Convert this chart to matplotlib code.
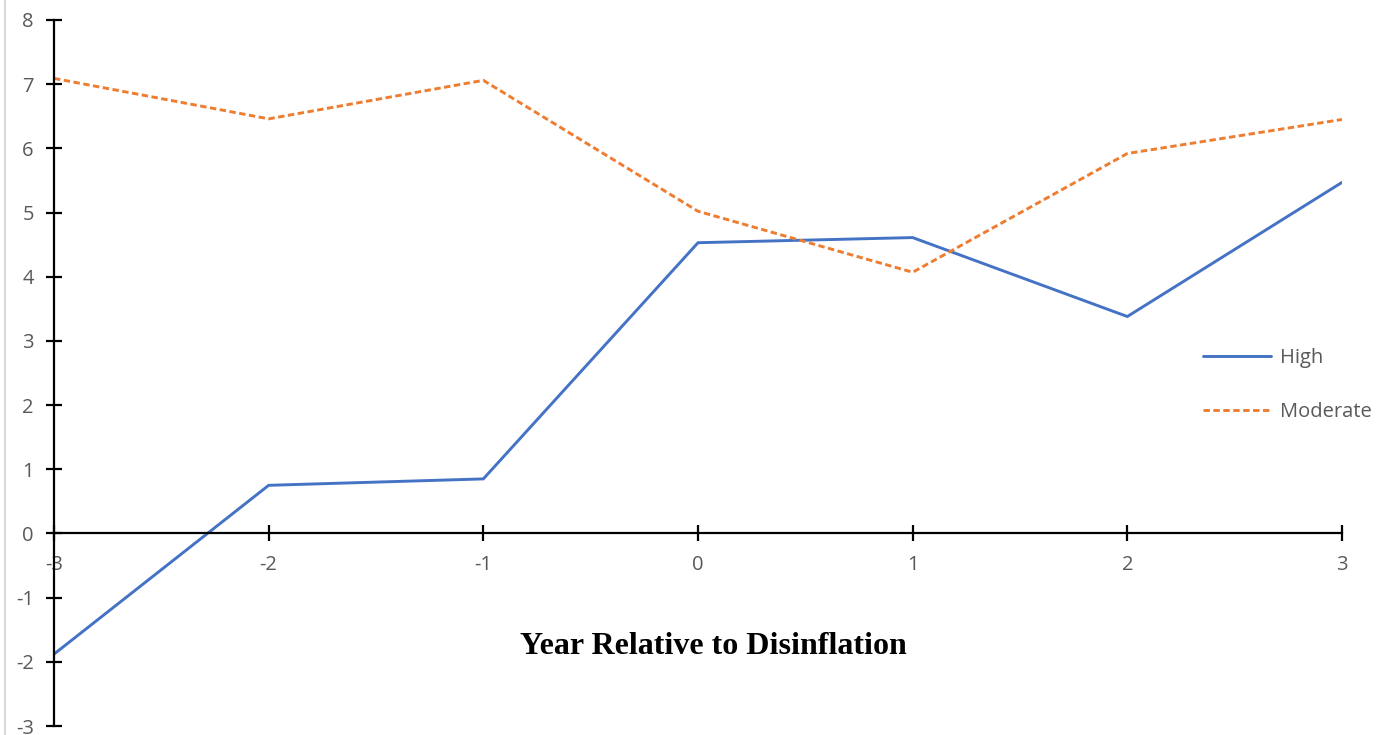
import matplotlib.pyplot as plt
from matplotlib.lines import Line2D

plt.rcParams['axes.unicode_minus'] = False

years = [-3, -2, -1, 0, 1, 2, 3]
high = [-1.88, 0.75, 0.85, 4.53, 4.61, 3.38, 5.47]
moderate = [7.09, 6.46, 7.06, 5.02, 4.07, 5.92, 6.45]
yticks = list(range(-3, 9))

W, H = 1383, 735
fig = plt.figure(figsize=(W / 100, H / 100), dpi=100)
ax = fig.add_axes([54 / W, 1 - 726 / H, (1342 - 54) / W, (726 - 20) / H])

ax.plot(years, high, color='#4472C4', lw=2.1, label='High', solid_capstyle='round')
ax.plot(years, moderate, color='#ED7D31', lw=2.1, ls=(0, (2.2, 1.2)), label='Moderate')

ax.set_xlim(-3, 3)
ax.set_ylim(-3, 8)
ax.spines['left'].set_position(('data', -3))
ax.spines['bottom'].set_position(('data', 0))
ax.spines['top'].set_visible(False)
ax.spines['right'].set_visible(False)
for s in ('left', 'bottom'):
    ax.spines[s].set_linewidth(1.6)
    ax.spines[s].set_color('black')

ax.set_xticks(years)
ax.set_yticks(yticks)
ax.tick_params(axis='both', direction='inout', length=11, width=1.6, color='black',
               labelsize=14.5, labelcolor='#595959')
ax.tick_params(axis='x', pad=10)
ax.tick_params(axis='y', pad=9)
for lab in ax.get_xticklabels() + ax.get_yticklabels():
    lab.set_fontfamily('Open Sans')

fig.text(713 / W, 1 - 647 / H, 'Year Relative to Disinflation', ha='center', va='center',
         fontsize=23, fontweight='bold', family='Liberation Serif')

leg = ax.legend(loc='center left', bbox_to_anchor=(1203 / W, 1 - 385 / H),
                bbox_transform=fig.transFigure, frameon=False, handlelength=3.4,
                handletextpad=0.4, labelspacing=1.7, borderaxespad=0, borderpad=0,
                prop={'family': 'Open Sans', 'size': 14.5})
for t in leg.get_texts():
    t.set_color('#595959')

fig.add_artist(Line2D([5 / W, 5 / W], [0, 1], color='#d9d9d9', lw=1.5, transform=fig.transFigure))

fig.savefig('out.png', dpi=100)
